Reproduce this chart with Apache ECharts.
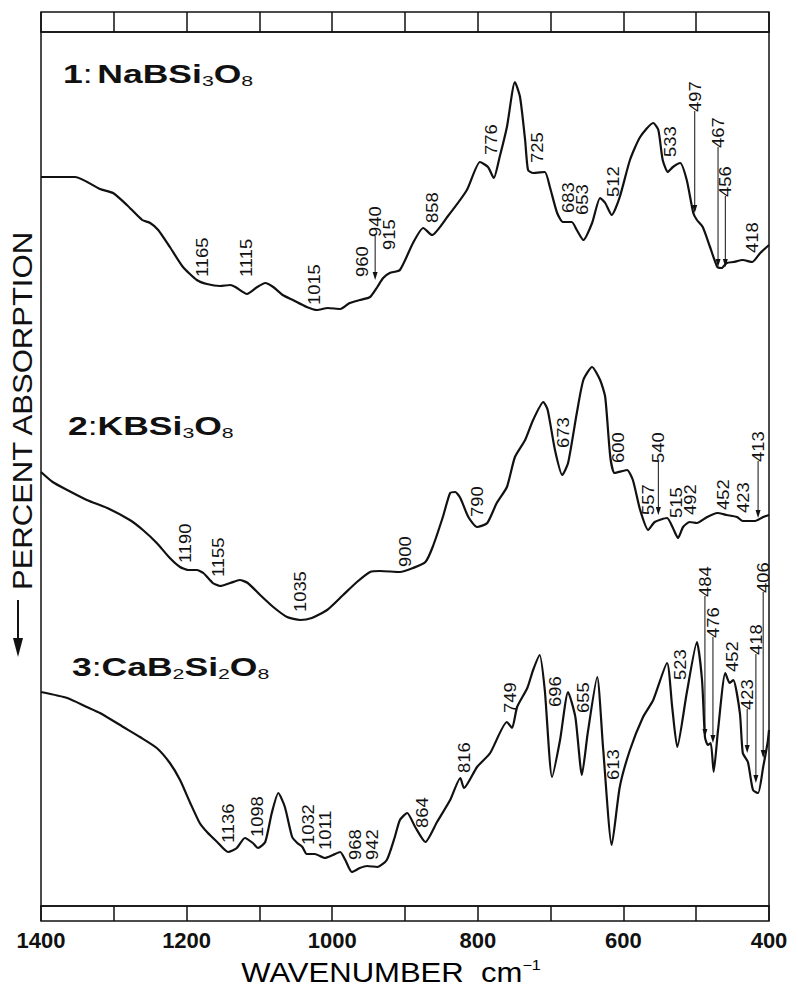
<!DOCTYPE html>
<html>
<head>
<meta charset="utf-8">
<script src="https://cdn.jsdelivr.net/npm/echarts@6/dist/echarts.min.js"></script>
<style>html,body{margin:0;padding:0;background:#fff}#c{width:798px;height:988px}</style>
</head>
<body>
<div id="c"></div>
<script>
// ---- data (wavenumber cm^-1, absorption in arbitrary units, increasing downward) ----
const wn1 = [1400,1353,1319,1301,1282,1261,1250,1239,1223,1205,1186,1172,1154,1140,1133,1117,1103,1092,1081,1068,1054,1035,1021,1006,989,976,962,948,938,930,921,907,889,875,863,842,815,797,786,778,770,760,749,742,735,731,724,708,701,691,683,671,664,655,643,632,625,616,605,591,577,559,552,546,539,532,522,513,504,499,491,481,471,465,458,449,436,423,412,400];
const abs1 = [14.5,14.5,15.7,16.1,17.3,18.8,19.1,19.8,21.5,23.5,24.8,25.2,25.4,25.3,25.5,26.2,25.5,25.1,25.5,26.3,26.8,27.5,27.8,27.6,27.7,27.1,26.8,26.5,25.5,24.6,24.1,23.8,21.1,19.6,20.3,18.5,15.8,13.0,13.5,14.6,12.5,9.5,5.0,6.5,10.8,13.8,14.1,14.0,15.5,18.1,19.0,19.0,19.8,20.8,19.1,16.6,17.1,18.3,16.5,12.8,10.5,9.1,9.8,12.8,14.0,13.5,13.1,14.8,18.1,18.8,19.5,21.5,23.5,23.6,23.1,23.0,22.8,23.0,22.1,21.3];

const wn2 = [1400,1384,1364,1337,1309,1278,1260,1241,1223,1209,1198,1186,1177,1164,1154,1140,1127,1116,1099,1081,1062,1044,1028,1007,985,966,948,934,907,889,872,862,848,838,831,824,813,801,787,774,760,749,735,724,710,704,694,684,676,664,655,643,632,625,618,612,595,587,577,566,557,540,532,525,518,509,499,485,471,458,444,436,419,408,400];
const abs2 = [44.0,45.0,45.8,46.8,47.6,48.8,49.8,51.1,52.6,53.5,53.8,53.8,54.1,55.1,55.4,55.1,54.8,55.1,56.3,57.5,58.5,58.8,58.6,57.8,56.3,55.0,54.0,53.9,54.0,53.6,53.0,51.5,48.5,46.1,46.0,46.6,48.5,49.5,49.1,47.1,45.5,42.5,40.8,38.8,37.0,37.8,41.8,44.3,43.1,38.1,34.8,33.5,34.8,36.5,42.5,44.1,43.8,44.8,47.8,49.8,49.0,48.6,49.6,50.6,49.5,49.0,49.1,48.5,48.1,48.3,48.5,48.9,48.9,48.5,48.3];

const wn3 = [1400,1364,1337,1319,1287,1264,1241,1223,1209,1195,1182,1172,1158,1143,1131,1120,1109,1102,1092,1083,1074,1065,1055,1048,1041,1035,1024,1010,999,989,982,973,962,952,938,925,914,907,897,886,872,856,838,824,819,801,783,760,753,746,732,724,715,708,698,687,676,666,657,649,636,628,616,605,591,573,559,540,533,526,513,499,492,488,484,480,476,470,460,454,449,440,436,429,422,415,408,402,400];
const abs3 = [66.0,66.6,67.5,68.1,69.5,70.5,71.6,73.1,74.8,77.1,79.1,80.0,81.0,82.0,81.6,80.6,81.1,81.6,81.0,78.1,76.1,77.5,80.5,81.1,81.5,82.2,82.2,82.6,82.3,82.0,82.8,84.0,83.6,83.4,83.5,82.8,80.5,78.8,78.1,79.5,81.0,79.0,76.8,74.6,75.6,73.5,72.1,69.0,69.6,67.5,65.6,63.8,62.3,65.8,74.5,70.8,66.0,68.5,74.3,70.1,64.5,71.5,81.3,75.5,71.8,68.5,66.8,63.1,67.5,71.5,66.1,61.0,64.8,70.5,71.3,71.1,74.0,69.8,64.1,65.1,64.8,68.1,72.1,73.0,75.8,76.1,73.5,71.1,69.8];

// peak labels as printed
const peaks1 = ['1165','1115','1015','960','940','915','858','776','725','683','653','512','533','497','467','456','418'];
const peaks2 = ['1190','1155','1035','900','790','673','600','557','540','515','492','452','423','413'];
const peaks3 = ['1136','1098','1032','1011','968','942','864','816','749','696','655','613','523','484','476','452','423','418','406'];

// x-axis tick labels
const xTicks = [1400, 1200, 1000, 800, 600, 400];

// ---- layout of annotations (data coords: [x of text, y of text start, y of arrow tip]) ----
const pos1 = [[1179,24.5],[1118,24.5],[1024,27.3],[959,24.5],[941,20.5,24.8],[922,21.8],[862,19.1],[782,12.3],[719,13.1],[676,18.1],[657,18.3],[614,16.5],[536,12.5],[502,8.0,18.1],[470,11.6,23.5],[460,16.5,23.5],[423,22.1]];
const pos2 = [[1202,53.1],[1157,54.5],[1044,58.0],[900,53.5],[801,48.5],[683,41.6],[607,43.1],[566,48.3],[552,43.1,48.3],[528,48.6],[508,48.3],[463,47.8],[436,48.1],[415,43.0,48.6]];
const pos3 = [[1143,81.1],[1103,80.5],[1033,81.3],[1010,81.8],[969,82.8],[945,82.8],[877,79.6],[818,74.1],[756,68.1],[694,67.5],[655,68.1],[614,74.8],[522,64.8],[488,56.5,70.5],[477,60.6,71.1],[451,64.0],[430,67.8,72.1],[418,62.3,75.1],[408,56.1,72.6]];

const FONT = '"Liberation Sans", Arial, sans-serif';
const INK = '#111';

function zip(a, b) { return a.map((v, i) => [v, b[i]]); }

function spectrum(wn, ab) {
  return {
    type: 'line', xAxisIndex: 1, yAxisIndex: 1, data: zip(wn, ab),
    symbol: 'none', smooth: 0.2, silent: true,
    lineStyle: { color: INK, width: 2.2 }
  };
}

function labelSeries(texts, pos) {
  return {
    type: 'custom', xAxisIndex: 1, yAxisIndex: 1, clip: false, silent: true, z: 5,
    data: pos.map(p => [p[0], p[1]]),
    renderItem: function (params, api) {
      const p = pos[params.dataIndex];
      const a = api.coord([p[0], p[1]]);
      const children = [{
        type: 'text', x: a[0], y: a[1], rotation: Math.PI / 2, scaleX: 1.08,
        style: { text: texts[params.dataIndex], font: '17px ' + FONT, fill: INK, align: 'left', verticalAlign: 'middle' }
      }];
      if (p.length > 2) {
        const b = api.coord([p[0], p[2]]);
        children.push({ type: 'line', shape: { x1: a[0], y1: a[1] - 1, x2: b[0], y2: b[1] - 3 }, style: { stroke: INK, lineWidth: 1 } });
        children.push({ type: 'polygon', shape: { points: [[b[0] - 2.5, b[1] - 8], [b[0] + 2.5, b[1] - 8], [b[0], b[1]]] }, style: { fill: INK } });
      }
      return { type: 'group', children: children };
    }
  };
}

function band(idx) {
  return {
    gridIndex: idx, type: 'value', min: 400, max: 1400, interval: 100, inverse: true,
    axisLine: { show: false }, axisTick: { show: false },
    axisLabel: { show: false },
    splitLine: { show: true, lineStyle: { color: INK, width: 1.5 } }
  };
}

const chart = echarts.init(document.getElementById('c'), null, { renderer: 'svg' });

const subRich = {
  b: { font: 'bold 25px ' + FONT, color: INK, lineHeight: 28 },
  r: { font: '25px ' + FONT, color: INK, lineHeight: 28 },
  s: { font: '15px ' + FONT, color: INK, lineHeight: 20, verticalAlign: 'bottom' }
};

function titleText(txt, x, y) {
  return { type: 'text', left: x, top: y, scaleX: 1.42, silent: true,
    style: { text: txt, rich: subRich, fill: INK } };
}

const xBottom = band(2);
xBottom.axisLabel = {
  show: true, margin: 8, hideOverlap: false, showMinLabel: true, showMaxLabel: true,
  color: INK, fontFamily: FONT, fontSize: 22, fontWeight: 'bold',
  formatter: v => (xTicks.indexOf(v) >= 0 ? String(v) : '')
};

chart.setOption({
  animation: false,
  backgroundColor: '#fff',
  grid: [
    { left: 41, right: 29, top: 12, height: 20, show: true, borderColor: INK, borderWidth: 1.5, backgroundColor: 'transparent' },
    { left: 41, right: 29, top: 32, bottom: 82, show: true, borderColor: INK, borderWidth: 1.5, backgroundColor: 'transparent' },
    { left: 41, right: 29, top: 906, bottom: 67, show: true, borderColor: INK, borderWidth: 1.5, backgroundColor: 'transparent' }
  ],
  xAxis: [
    band(0),
    { gridIndex: 1, type: 'value', min: 400, max: 1400, inverse: true, show: false },
    xBottom
  ],
  yAxis: [
    { gridIndex: 0, type: 'value', min: 0, max: 1, show: false },
    { gridIndex: 1, type: 'value', min: 0, max: 87.4, inverse: true, show: false },
    { gridIndex: 2, type: 'value', min: 0, max: 1, show: false }
  ],
  series: [
    spectrum(wn1, abs1), spectrum(wn2, abs2), spectrum(wn3, abs3),
    labelSeries(peaks1, pos1), labelSeries(peaks2, pos2), labelSeries(peaks3, pos3)
  ],
  graphic: [
    titleText('{b|1}{r|:} {b|NaBSi}{s|3}{b|O}{s|8}', 63, 62),
    titleText('{b|2}{r|:}{b|KBSi}{s|3}{b|O}{s|8}', 68, 414),
    titleText('{b|3}{r|:}{b|CaB}{s|2}{b|Si}{s|2}{b|O}{s|8}', 72, 655),
    { type: 'text', x: 391, y: 973, scaleX: 1.15, silent: true,
      style: { text: '{a|WAVENUMBER  cm}{s|−1}', align: 'center', verticalAlign: 'middle',
        rich: { a: { font: '27px ' + FONT, color: INK, lineHeight: 30 },
                s: { font: '14px ' + FONT, color: INK, lineHeight: 30, verticalAlign: 'top', padding: [0, 0, 14, 0] } } } },
    { type: 'text', x: 23, y: 411, rotation: Math.PI / 2, scaleX: 1.15, silent: true,
      style: { text: 'PERCENT ABSORPTION', font: '27px ' + FONT, fill: INK, align: 'center', verticalAlign: 'middle' } },
    { type: 'line', silent: true, shape: { x1: 18, y1: 600, x2: 18, y2: 650 }, style: { stroke: INK, lineWidth: 2 } },
    { type: 'polygon', silent: true, shape: { points: [[13, 638], [23, 638], [18, 657]] }, style: { fill: INK } }
  ]
});
</script>
</body>
</html>
